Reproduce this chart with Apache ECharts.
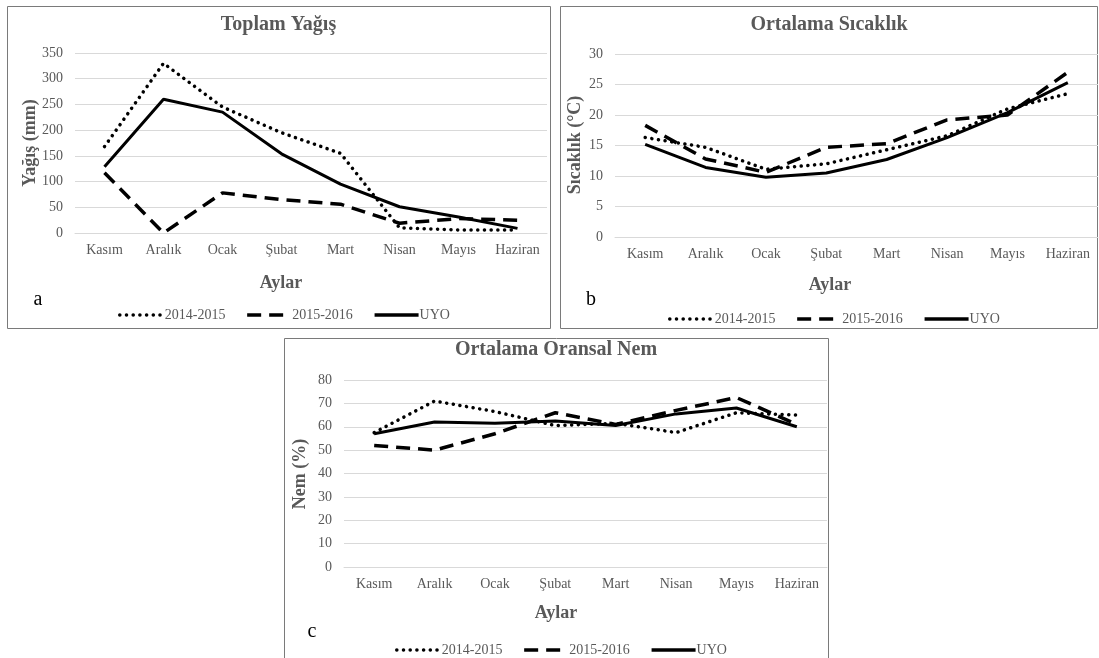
<!DOCTYPE html>
<html>
<head>
<meta charset="utf-8">
<script src="https://cdn.jsdelivr.net/npm/echarts@6/dist/echarts.min.js"></script>
<style>
html,body{margin:0;padding:0;background:#fff;}
#c{width:1099px;height:658px;}
</style>
</head>
<body>
<div id="c"></div>
<script>
const months = ['Kasım','Aralık','Ocak','Şubat','Mart','Nisan','Mayıs','Haziran'];
const seriesNames = ['2014-2015','2015-2016','UYO'];

// Toplam Yağış (mm)
const rain1415 = [168, 330, 245, 195, 155, 10, 6, 6];
const rain1516 = [117, 0, 78, 65, 56, 19, 28, 25];
const rainUYO  = [129, 260, 235, 154, 95, 51, 31, 9];

// Ortalama Sıcaklık (°C)
const temp1415 = [16.3, 14.7, 11.1, 12.0, 14.3, 16.6, 21.0, 23.5];
const temp1516 = [18.3, 12.8, 10.6, 14.7, 15.3, 19.2, 20.0, 27.0];
const tempUYO  = [15.2, 11.4, 9.8, 10.5, 12.7, 16.3, 20.4, 25.3];

// Ortalama Oransal Nem (%)
const hum1415 = [57.5, 71, 66.5, 60.5, 61.5, 57.5, 66, 65];
const hum1516 = [52, 50, 57, 66, 61, 67, 72.5, 61];
const humUYO  = [57, 62, 61.5, 62.5, 60.5, 65.5, 68, 60];

const yTicksA = [0, 350, 50];
const yTicksB = [0, 30, 5];
const yTicksC = [0, 80, 10];

const titles = ['Toplam Yağış', 'Ortalama Sıcaklık', 'Ortalama Oransal Nem'];
const yNames = ['Yağış (mm)', 'Sıcaklık (°C)', 'Nem (%)'];
const xName = 'Aylar';
const letters = ['a', 'b', 'c'];

const FONT = '"Liberation Serif", "DejaVu Serif", serif';
const GRAY = '#595959';

const grids = [
  {left: 75, top: 53, width: 472, height: 180},
  {left: 615, top: 54, width: 483, height: 183},
  {left: 344, top: 380, width: 483, height: 187}
];
const ticks = [yTicksA, yTicksB, yTicksC];
const data = [
  [rain1415, rain1516, rainUYO],
  [temp1415, temp1516, tempUYO],
  [hum1415, hum1516, humUYO]
];

const lineStyles = [
  {color: '#000', width: 3.5, type: [0.1, 6.6], cap: 'round'},
  {color: '#000', width: 3.5, type: [14, 8], cap: 'butt'},
  {color: '#000', width: 3, type: 'solid'}
];

const xAxes = grids.map((g, i) => ({
  type: 'category', gridIndex: i, data: months, boundaryGap: true,
  axisLine: {show: true, lineStyle: {color: '#d9d9d9', width: 1}},
  axisTick: {show: false},
  axisLabel: {color: GRAY, fontFamily: FONT, fontSize: 14, margin: 10}
}));
const yAxes = grids.map((g, i) => ({
  type: 'value', gridIndex: i, min: ticks[i][0], max: ticks[i][1], interval: ticks[i][2],
  axisLine: {show: false}, axisTick: {show: false},
  splitLine: {lineStyle: {color: '#d9d9d9', width: 1}},
  axisLabel: {color: GRAY, fontFamily: FONT, fontSize: 14, margin: 12}
}));

const series = [];
data.forEach((set, gi) => {
  set.forEach((vals, si) => {
    series.push({
      name: seriesNames[si], type: 'line', xAxisIndex: gi, yAxisIndex: gi,
      data: vals, symbol: 'none', smooth: false,
      lineStyle: lineStyles[si], itemStyle: {color: '#000'},
      z: 3 - si
    });
  });
});

const legendPos = [
  {left: 118, top: 308},
  {left: 668, top: 312},
  {left: 395, top: 643}
];
const legends = legendPos.map(p => ({
  left: p.left, top: p.top, padding: 0, itemGap: 20, itemWidth: 44, itemHeight: 14,
  data: seriesNames, selectedMode: false,
  itemStyle: {opacity: 0},
  lineStyle: {width: 3.5},
  textStyle: {color: GRAY, fontFamily: FONT, fontSize: 14, padding: [0, 0, 0, -4]}
}));

const borders = [
  {x: 7.5, y: 6.5, w: 543, h: 322},
  {x: 560.5, y: 6.5, w: 537, h: 322},
  {x: 284.5, y: 338.5, w: 544, h: 330}
];
const titlePos = [[278.5, 25], [829, 25], [556, 350]];
const yNamePos = [[30, 143], [575, 145], [300, 474]];
const xNamePos = [[281, 283], [830, 285], [556, 613]];
const letterPos = [[38, 300], [591, 300], [312, 632]];

const graphic = [];
borders.forEach(b => graphic.push({
  type: 'rect', shape: {x: b.x, y: b.y, width: b.w, height: b.h},
  style: {fill: 'none', stroke: '#7a7a7a', lineWidth: 1}, z: -1, silent: true
}));
titles.forEach((t, i) => graphic.push({
  type: 'text', x: titlePos[i][0], y: titlePos[i][1],
  style: {text: t, fill: GRAY, font: 'bold 20px ' + FONT, align: 'center', verticalAlign: 'middle'}
}));
yNames.forEach((t, i) => graphic.push({
  type: 'text', x: yNamePos[i][0], y: yNamePos[i][1], rotation: Math.PI / 2,
  style: {text: t, fill: GRAY, font: 'bold 18px ' + FONT, align: 'center', verticalAlign: 'middle'}
}));
xNamePos.forEach(p => graphic.push({
  type: 'text', x: p[0], y: p[1],
  style: {text: xName, fill: GRAY, font: 'bold 18px ' + FONT, align: 'center', verticalAlign: 'middle'}
}));
letters.forEach((t, i) => graphic.push({
  type: 'text', x: letterPos[i][0], y: letterPos[i][1],
  style: {text: t, fill: '#000', font: '20px ' + FONT, align: 'center', verticalAlign: 'middle'}
}));

const chart = echarts.init(document.getElementById('c'), null, {renderer: 'canvas'});
chart.setOption({
  animation: false,
  backgroundColor: '#fff',
  grid: grids.map(g => Object.assign({containLabel: false}, g)),
  xAxis: xAxes,
  yAxis: yAxes,
  legend: legends,
  series: series,
  graphic: graphic
});
</script>
</body>
</html>
